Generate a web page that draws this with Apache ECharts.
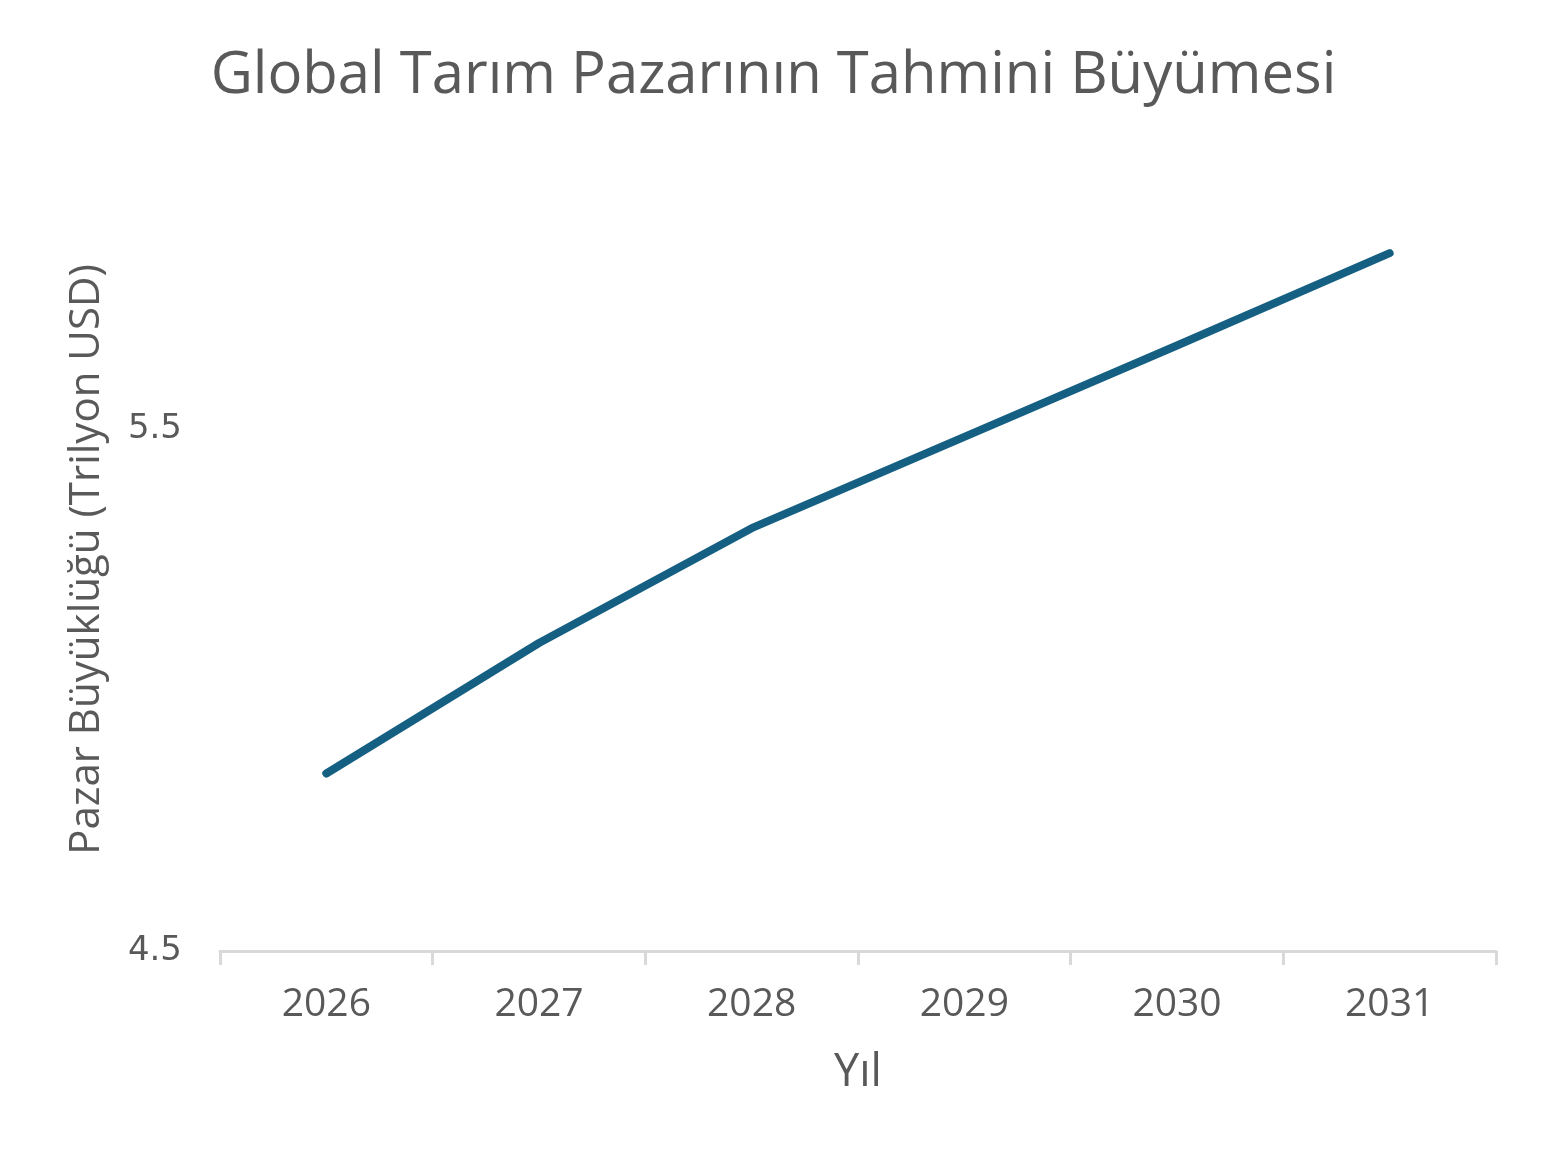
<!DOCTYPE html>
<html><head><meta charset="utf-8">
<script src="https://cdn.jsdelivr.net/npm/echarts@6/dist/echarts.min.js"></script>
<style>html,body{margin:0;padding:0;background:#fff}#c{width:1547px;height:1155px}</style>
</head><body><div id="c"></div>
<script>
const titleText = 'Global Tarım Pazarının Tahmini Büyümesi';
const xAxisName = 'Yıl';
const yAxisName = 'Pazar Büyüklüğü (Trilyon USD)';
const years = ['2026','2027','2028','2029','2030','2031'];
const marketSize = [4.84, 5.09, 5.31, 5.485, 5.66, 5.837];

const chart = echarts.init(document.getElementById('c'));
chart.setOption({
  backgroundColor: '#fff',
  animation: false,
  title: {
    text: titleText, left: 'center', top: 42,
    textStyle: {fontFamily: 'Open Sans', fontSize: 58, fontWeight: 'normal', color: '#595959'}
  },
  grid: {left: 220, right: 51, top: 168, bottom: 204},
  xAxis: {
    type: 'category', data: years, boundaryGap: true,
    name: xAxisName, nameLocation: 'middle', nameGap: 100,
    nameTextStyle: {fontFamily: 'Open Sans', fontSize: 45, color: '#595959'},
    axisLine: {lineStyle: {color: '#d9d9d9', width: 3}},
    axisTick: {show: true, length: 14, lineStyle: {color: '#d9d9d9', width: 3}},
    axisLabel: {fontFamily: 'Open Sans', fontSize: 39, color: '#595959', margin: 34}
  },
  yAxis: {
    type: 'value', min: 4.5, max: 6.0, interval: 1,
    name: yAxisName, nameLocation: 'middle', nameGap: 112, nameRotate: 90,
    nameTextStyle: {fontFamily: 'Open Sans', fontSize: 42, color: '#595959'},
    axisLine: {show: false}, axisTick: {show: false}, splitLine: {show: false},
    axisLabel: {fontFamily: 'DejaVu Sans', fontSize: 34, color: '#595959', margin: 38,
      padding: [6, 0, 0, 0],
      showMaxLabel: false, formatter: v => v.toFixed(1)}
  },
  series: [{
    type: 'line', data: marketSize, symbol: 'none',
    lineStyle: {color: '#156082', width: 8, cap: 'round', join: 'round'}
  }]
});
</script></body></html>
